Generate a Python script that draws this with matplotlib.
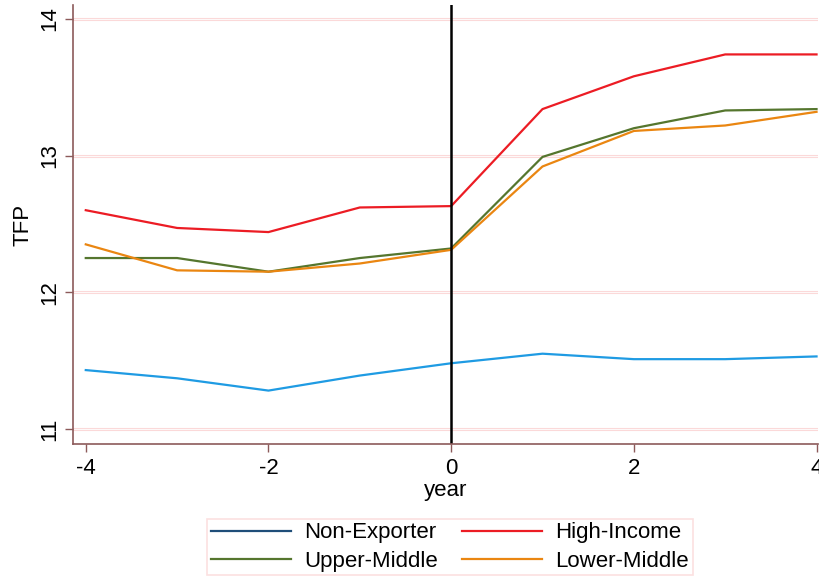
import matplotlib
matplotlib.use("Agg")
from matplotlib import pyplot as plt
from matplotlib.lines import Line2D

plt.rcParams['font.family'] = ['Liberation Sans', 'DejaVu Sans']

years = [-4, -3, -2, -1, 0, 1, 2, 3, 4]
non_exporter = [11.43, 11.37, 11.28, 11.39, 11.48, 11.55, 11.51, 11.51, 11.53]
high_income = [12.60, 12.47, 12.44, 12.62, 12.63, 13.34, 13.58, 13.74, 13.74]
upper_middle = [12.25, 12.25, 12.15, 12.25, 12.32, 12.99, 13.20, 13.33, 13.34]
lower_middle = [12.35, 12.16, 12.15, 12.21, 12.31, 12.92, 13.18, 13.22, 13.32]
labels = ["Non-Exporter", "High-Income", "Upper-Middle", "Lower-Middle"]
yticks = [11, 12, 13, 14]
xticks = [-4, -2, 0, 2, 4]

spine_col = "#8c5a5a"
grid_col = "#fbd9d9"

fig = plt.figure(figsize=(8.2, 5.81), dpi=100)
ax = fig.add_axes([0.089, 0.236, 0.909, 0.755])

for yv in yticks:
    ax.axhline(yv, color=grid_col, lw=2.2, zorder=0)
    ax.axhline(yv, color="white", lw=0.6, zorder=0)

ax.plot(years, non_exporter, color="#1f9be3", lw=1.6)
ax.plot(years, high_income, color="#ec1c24", lw=1.6)
ax.plot(years, upper_middle, color="#55762e", lw=1.6)
ax.plot(years, lower_middle, color="#ea8611", lw=1.6)
ax.axvline(0, color="black", lw=1.8)

ax.set_xlim(-4.14, 4.02)
ax.set_ylim(10.89, 14.1)
ax.set_xticks(xticks)
ax.set_xticklabels([str(x) for x in xticks])
ax.set_yticks(yticks)
ax.set_yticklabels([str(y) for y in yticks], rotation=90, va="center")
ax.tick_params(axis="both", labelsize=16, color=spine_col, length=6, width=1)
ax.tick_params(axis="y", pad=3)
ax.tick_params(axis="x", pad=4)

for s in ["top", "right"]:
    ax.spines[s].set_visible(False)
for s in ["left", "bottom"]:
    ax.spines[s].set_color(spine_col)
    ax.spines[s].set_linewidth(1.2)

ax.set_xlabel("year", fontsize=16, labelpad=1)
ax.set_ylabel("TFP", fontsize=16, labelpad=4)

# column-first fill, so order gives rows: Non-Exporter/High-Income, Upper/Lower
leg_cols = ["#1f4e79", "#55762e", "#ec1c24", "#ea8611"]
leg_labels = [labels[0], labels[2], labels[1], labels[3]]
handles = [Line2D([], [], color=c, lw=1.6) for c in leg_cols]
leg = fig.legend(handles, leg_labels, loc="upper center",
                 bbox_to_anchor=(450 / 820, 1 - 519 / 581),
                 ncol=2, fontsize=16, frameon=True, fancybox=False,
                 handlelength=3.6, handletextpad=0.6, columnspacing=1.1,
                 labelspacing=0.35, borderpad=0.15, borderaxespad=0)
leg.get_frame().set_edgecolor(grid_col)
leg.get_frame().set_linewidth(1.2)

fig.savefig("out.png", dpi=100)
